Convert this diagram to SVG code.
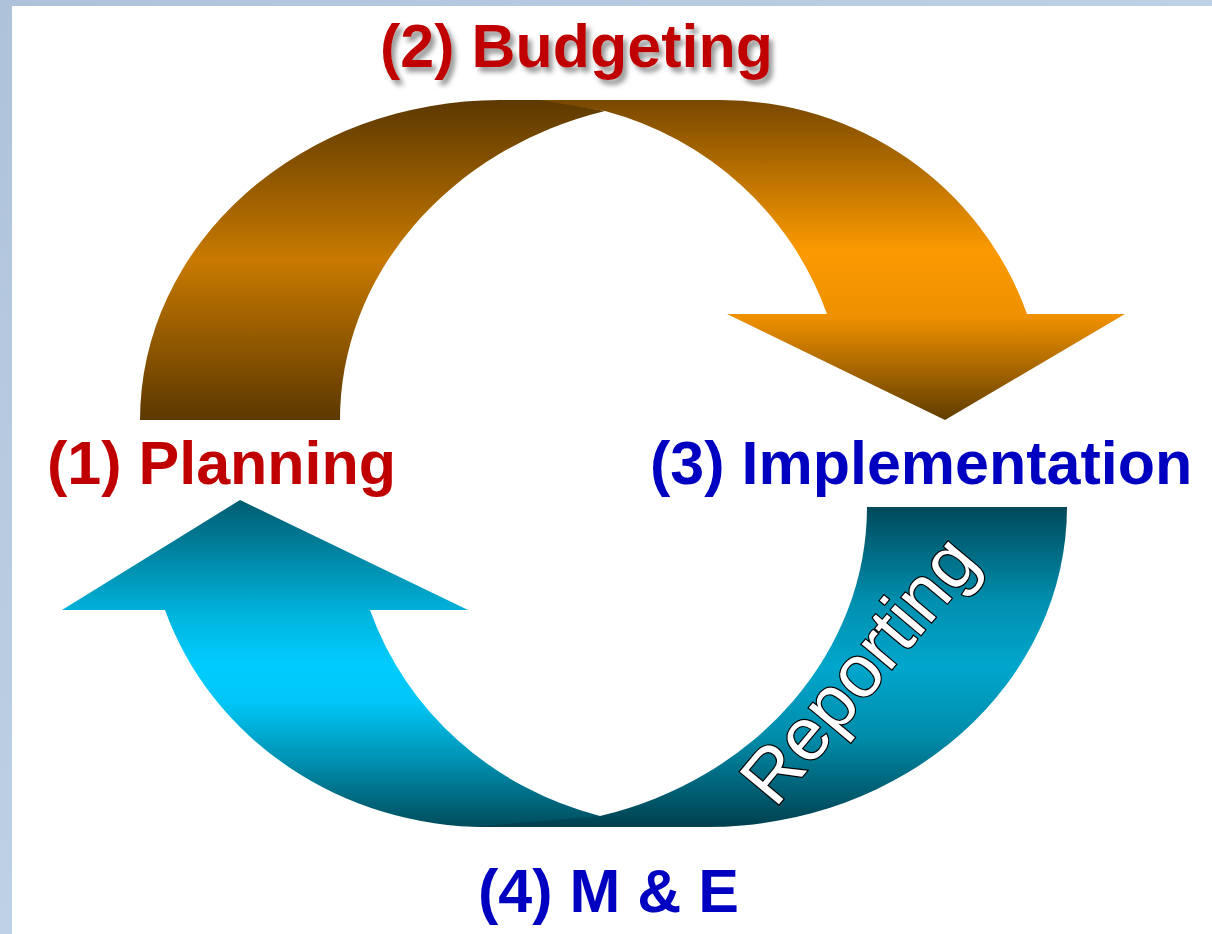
<svg xmlns="http://www.w3.org/2000/svg" width="1212" height="934" viewBox="0 0 1212 934">
<defs>
<linearGradient id="bg" x1="0" y1="0" x2="1" y2="1">
<stop offset="0" stop-color="#aec2da"/>
<stop offset="1" stop-color="#cde0f1"/>
</linearGradient>
<linearGradient id="brownTail" gradientUnits="userSpaceOnUse" x1="0" y1="100" x2="0" y2="420">
<stop offset="0" stop-color="#5c3800"/>
<stop offset="0.5" stop-color="#c87a00"/>
<stop offset="1" stop-color="#5c3800"/>
</linearGradient>
<linearGradient id="orangeHead" gradientUnits="userSpaceOnUse" x1="0" y1="100" x2="0" y2="420">
<stop offset="0" stop-color="#784800"/>
<stop offset="0.47" stop-color="#fb9900"/>
<stop offset="0.68" stop-color="#ee9000"/>
<stop offset="1" stop-color="#603c00"/>
</linearGradient>
<linearGradient id="cyanHead" gradientUnits="userSpaceOnUse" x1="0" y1="500" x2="0" y2="827">
<stop offset="0" stop-color="#005c70"/>
<stop offset="0.35" stop-color="#00b4dc"/>
<stop offset="0.5" stop-color="#00ccff"/>
<stop offset="0.62" stop-color="#00c6f6"/>
<stop offset="0.8" stop-color="#0090b0"/>
<stop offset="1" stop-color="#004c5c"/>
</linearGradient>
<linearGradient id="tealTail" gradientUnits="userSpaceOnUse" x1="0" y1="507" x2="0" y2="827">
<stop offset="0" stop-color="#00495a"/>
<stop offset="0.3" stop-color="#0090b0"/>
<stop offset="0.5" stop-color="#00a6cc"/>
<stop offset="0.72" stop-color="#008caa"/>
<stop offset="1" stop-color="#00404f"/>
</linearGradient>
<filter id="shadow" x="-10%" y="-30%" width="130%" height="180%">
<feDropShadow dx="4" dy="5" stdDeviation="2.5" flood-color="#808080" flood-opacity="0.8"/>
</filter>
</defs>
<style>
.lbl { font-family: "Liberation Sans", Arial, sans-serif; font-weight: bold; font-size: 61px; }
.red { fill: #c00000; }
.blue { fill: #0000c0; }
.rep { font-family: "Liberation Sans", Arial, sans-serif; font-size: 74px; fill: #ffffff; stroke: #000000; stroke-width: 2.4px; paint-order: stroke; }
</style>
<rect x="0" y="0" width="1212" height="934" fill="url(#bg)"/>
<rect x="12" y="6" width="1200" height="928" fill="#ffffff"/>
<g id="connectors">
<path id="top-head" d="M 530 100 L 720 100 A 325 320 0 0 1 1027 314 L 1125 314 L 945 420 L 727 314 L 827 314 A 325 320 0 0 0 605 111 Z" fill="url(#orangeHead)"/>
<path id="top-tail" d="M 140 420 A 360 320 0 0 1 500 100 L 540 100 L 605 111 A 360 320 0 0 0 340 420 Z" fill="url(#brownTail)"/>
<path id="bottom-head" d="M 700 827 L 487 827 A 340 320 0 0 1 165 610 L 62 610 L 240 500 L 468 610 L 370 610 A 335 320 0 0 0 600 816 Z" fill="url(#cyanHead)"/>
<path id="bottom-tail" d="M 1067 507 A 360 320 0 0 1 707 827 L 470 827 L 600 816 A 360 320 0 0 0 867 507 Z" fill="url(#tealTail)"/>
<text class="rep" transform="translate(878,686) rotate(-50)" text-anchor="middle">Reporting</text>
</g>
<g id="budgeting">
<text class="lbl red" x="380" y="67" filter="url(#shadow)">(2) Budgeting</text>
</g>
<g id="planning">
<text class="lbl red" x="47" y="484">(1) Planning</text>
</g>
<g id="implementation">
<text class="lbl blue" x="650" y="484">(3) Implementation</text>
</g>
<g id="me">
<text class="lbl blue" x="478" y="912">(4) M &amp; E</text>
</g>
</svg>
